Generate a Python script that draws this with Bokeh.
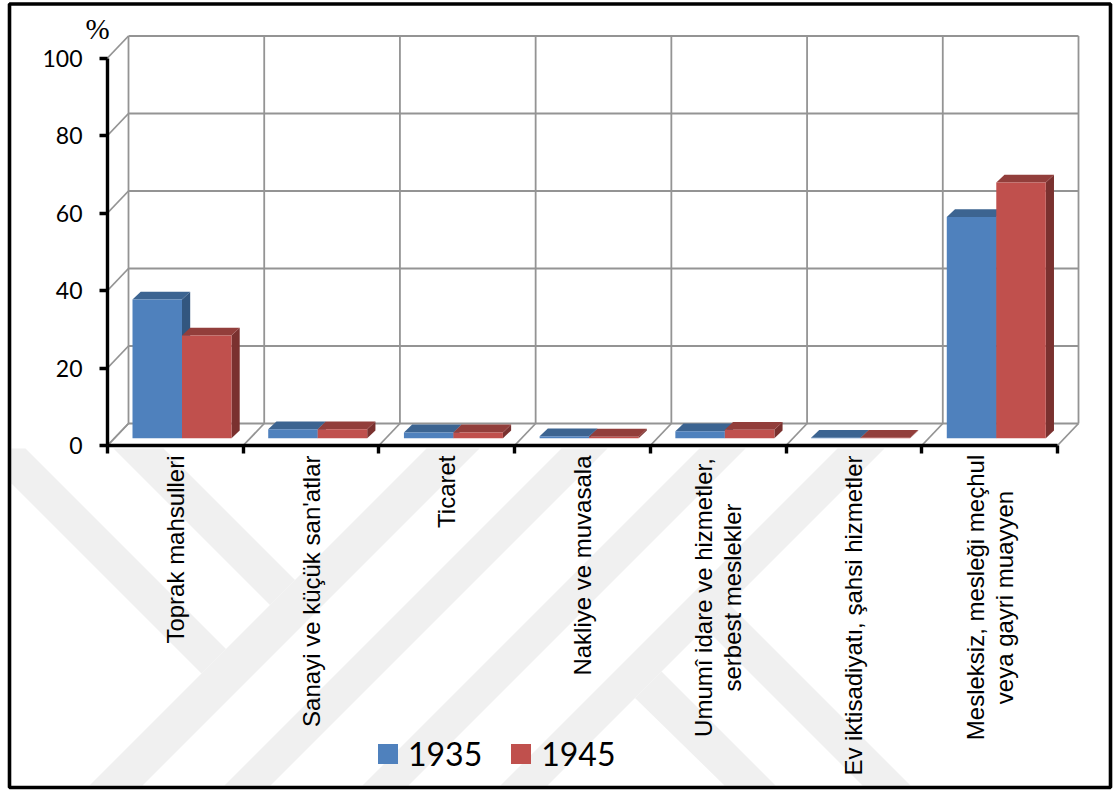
from bokeh.plotting import figure
from bokeh.core.properties import value
from bokeh.models import Range1d, LinearAxis, FixedTicker, Legend, LegendItem
from bokeh.embed import file_html
from bokeh.resources import INLINE

# ---- data ----
categories = ["Toprak mahsulleri", "Sanayi ve küçük san'atlar", "Ticaret", "Nakliye ve muvasala",
              "Umumî idare ve hizmetler,\nserbest meslekler", "Ev iktisadiyatı, şahsi hizmetler",
              "Mesleksiz, mesleği meçhul\nveya gayri muayyen"]
values_1935 = [35.8, 2.3, 1.5, 0.5, 1.8, 0.1, 57.1]
values_1945 = [26.5, 2.3, 1.5, 0.4, 2.2, 0.1, 66.0]
series_names = ["1935", "1945"]
y_ticks = [0, 20, 40, 60, 80, 100]

# ---- scales: pixels per data unit ----
W, H = 1113, 790
ORIGIN_X, ORIGIN_Y = 107, 445
PX_X = 135.714
PX_Y = 3.875
WALL_DX, WALL_DY = 21 / PX_X, 22 / PX_Y
BAR_DX, BAR_DY = 8.2 / PX_X, 7.8 / PX_Y
BAR_PAD, BAR_W = 25 / PX_X, 49.5 / PX_X
BAR_BASE = 7.3 / PX_Y
GRID = "#949494"

def X(px):
    return (px - ORIGIN_X) / PX_X
def Y(py):
    return (ORIGIN_Y - py) / PX_Y

p = figure(width=W, height=H, output_backend="svg", toolbar_location=None,
           x_axis_type=None, y_axis_type=None,
           x_range=Range1d(X(0), X(W)), y_range=Range1d(Y(H), Y(0)),
           min_border=0, min_border_left=0, min_border_right=0, min_border_top=0, min_border_bottom=0,
           background_fill_color="white", border_fill_color="white", outline_line_color=None)
p.styles = {"position": "absolute", "left": "0px", "top": "0px"}
p.grid.visible = False

# pale background watermark (page decoration, in picture pixels)
TOP, BOT = 448, 785
def rising(c1, c2):
    return [c1 - TOP, c2 - TOP, c2 - BOT, c1 - BOT], [TOP, TOP, BOT, BOT]
wm = [rising(874, 927), rising(1009, 1055), rising(1147, 1193), rising(1285, 1332),
      ([25, 225.5, 201, 11, 11], [448, 648.5, 673, 483, 448]),
      ([113, 163, 294.5, 269.5], [448, 448, 579.5, 604.5]),
      ([661, 634.5, 724, 775], [671, 697.5, BOT, BOT]),
      ([728.5, 704.5, 862, 910], [603.5, 627.5, BOT, BOT])]
p.patches([[X(v) for v in xs] for xs, _ in wm], [[Y(v) for v in ys] for _, ys in wm],
          fill_color="#f0f0f0", line_color=None)

# 3D wall grid
n = len(categories)
top = max(y_ticks)
p.segment([k + WALL_DX for k in range(n + 1)], [WALL_DY] * (n + 1),
          [k + WALL_DX for k in range(n + 1)], [top + WALL_DY] * (n + 1), line_color=GRID, line_width=1.8)
p.segment([WALL_DX] * len(y_ticks), [v + WALL_DY for v in y_ticks],
          [n + WALL_DX] * len(y_ticks), [v + WALL_DY for v in y_ticks], line_color=GRID, line_width=1.8)
p.segment([0] * len(y_ticks), y_ticks, [WALL_DX] * len(y_ticks), [v + WALL_DY for v in y_ticks],
          line_color=GRID, line_width=1.8)
p.segment(list(range(n + 1)), [0] * (n + 1), [k + WALL_DX for k in range(n + 1)], [WALL_DY] * (n + 1),
          line_color=GRID, line_width=1.8)

# 3D bars
palette = [("#4F81BD", "#3C6491", "#32567F"), ("#C0504D", "#923E3B", "#7A312F")]
fronts = []
for s, vals in enumerate([values_1935, values_1945]):
    front, topc, side = palette[s]
    lefts = [k + BAR_PAD + s * BAR_W for k in range(n)]
    rights = [l + BAR_W for l in lefts]
    tops = [BAR_BASE + v for v in vals]
    p.patches([[r, r + BAR_DX, r + BAR_DX, r] for r in rights],
              [[BAR_BASE, BAR_BASE + BAR_DY, t + BAR_DY, t] for t in tops],
              fill_color=side, line_color=None)
    p.patches([[l, l + BAR_DX, r + BAR_DX, r] for l, r in zip(lefts, rights)],
              [[t, t + BAR_DY, t + BAR_DY, t] for t in tops],
              fill_color=topc, line_color=None)
    fronts.append(p.quad(left=lefts, right=rights, bottom=[BAR_BASE] * n, top=tops,
                         fill_color=front, line_color=None))

# axes fixed at the chart's origin
yaxis = LinearAxis(ticker=FixedTicker(ticks=y_ticks), bounds=(0, top), fixed_location=0,
                   axis_line_color="black", axis_line_width=3.4,
                   major_tick_line_color="black", major_tick_line_width=3.4,
                   major_tick_in=0, major_tick_out=8, minor_tick_line_color=None,
                   major_label_standoff=17, major_label_text_color="black",
                   major_label_text_font="Lato", major_label_text_font_size="23px")
p.add_layout(yaxis, "left")
xaxis = LinearAxis(ticker=FixedTicker(ticks=[], minor_ticks=list(range(n + 1))), bounds=(0, n), fixed_location=0,
                   axis_line_color="black", axis_line_width=3.4,
                   major_tick_line_color=None, minor_tick_line_color="black", minor_tick_line_width=3.4,
                   minor_tick_in=0, minor_tick_out=8)
p.add_layout(xaxis, "below")

# rotated category labels
LABEL_FONT = "24px"
for k, cat in enumerate(categories):
    lines = cat.split("\n")
    cx = k + 0.5
    if len(lines) == 1:
        p.text(x=[cx], y=[Y(455)], text=[lines[0]], angle=90, angle_units="deg", text_align="right",
               text_baseline="middle", text_font=value("Liberation Sans"), text_font_size=LABEL_FONT,
               text_color="black")
    else:
        for j, line in enumerate(lines):
            p.text(x=[cx + (j - 0.5) * 29 / PX_X], y=[Y(597)], text=[line], angle=90, angle_units="deg",
                   text_align="center", text_baseline="middle", text_font=value("Liberation Sans"),
                   text_font_size=LABEL_FONT, text_color="black")

# % mark
p.text(x=[X(97)], y=[Y(28)], text=["%"], text_align="center", text_baseline="middle",
       text_font=value("Liberation Serif"), text_font_size="29px", text_color="black")

# legend
legend = Legend(items=[LegendItem(label=nm, renderers=[r]) for nm, r in zip(series_names, fronts)],
                orientation="horizontal", location=(375, 17), padding=0, margin=0,
                glyph_width=25, glyph_height=25, label_standoff=8, spacing=26,
                border_line_color=None, background_fill_alpha=0,
                label_text_font="Lato", label_text_font_size="32px", label_text_color="black")
p.add_layout(legend, "center")

# outer frame of the picture
p.quad(left=[X(9)], right=[X(1110)], top=[Y(3.5)], bottom=[Y(787)], fill_alpha=0,
       line_color="black", line_width=3.6)

open("out.html", "w").write(file_html(p, INLINE))
